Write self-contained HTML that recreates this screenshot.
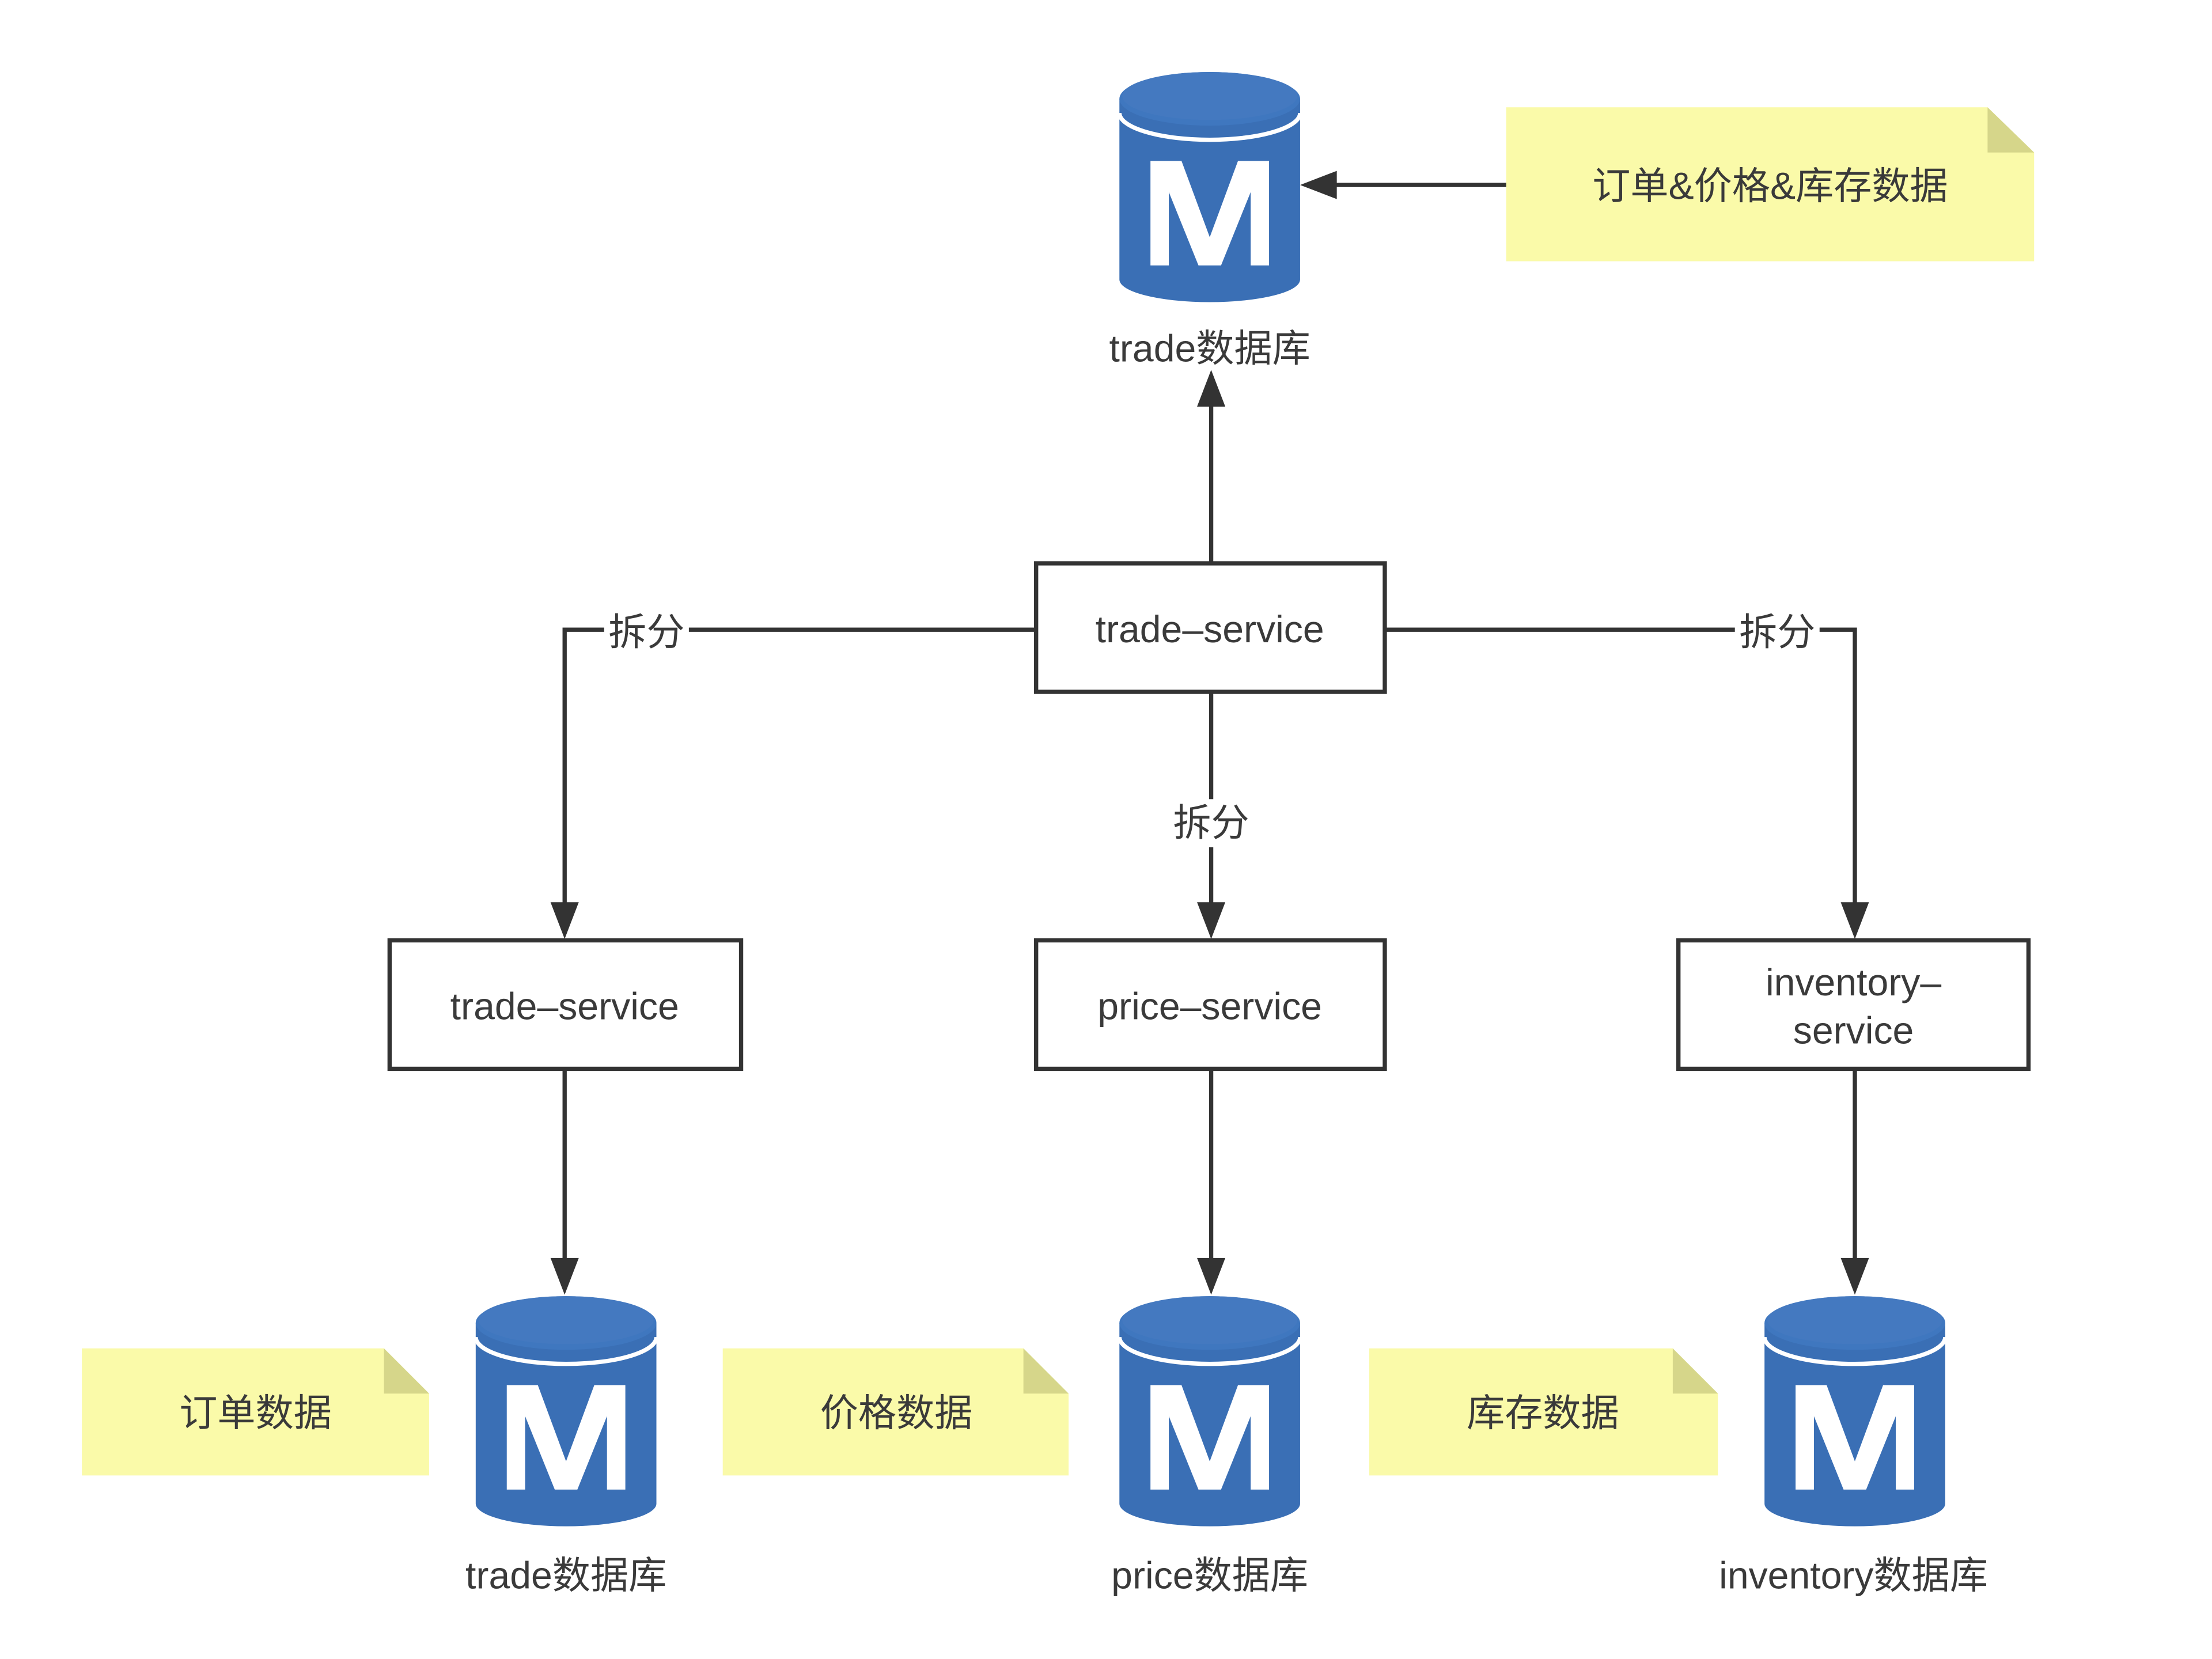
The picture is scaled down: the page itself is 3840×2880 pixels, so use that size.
<!DOCTYPE html>
<html><head><meta charset="utf-8"><style>
html,body{margin:0;padding:0;background:#fff;}
svg{display:block;}
text{font-family:"Liberation Sans","Noto Sans CJK SC",sans-serif;fill:#3a3a3a;}
</style></head><body>
<svg width="3840" height="2880" viewBox="0 0 1567 1175" preserveAspectRatio="none" xmlns="http://www.w3.org/2000/svg">
<defs>
<g id="db">
<path d="M0,20 L0,148 A64,16 0 0 0 128,148 L128,20 Z" fill="#3a6fb5"/>
<ellipse cx="64" cy="20" rx="64" ry="19" fill="#3f77bf"/>
<path d="M0,30 A64,19 0 0 0 128,30" fill="none" stroke="#fff" stroke-width="3"/>
<ellipse cx="64" cy="18" rx="62" ry="17" fill="#4479c0"/>
<path d="M22,138 L22,64 L44,64 L64,118 L84,64 L106,64 L106,138 L93,138 L93,86 L72,138 L56,138 L35,86 L35,138 Z" fill="#fff"/>
</g>
</defs>
<rect width="1567" height="1175" fill="#fff"/>

<use href="#db" x="793" y="50"/>
<use href="#db" x="337" y="917"/>
<use href="#db" x="793" y="917"/>
<use href="#db" x="1250" y="917"/>

<g font-size="27" text-anchor="middle">
<text x="857" y="256">trade数据库</text>
<text x="401" y="1125">trade数据库</text>
<text x="857" y="1125">price数据库</text>
<text x="1313" y="1125">inventory数据库</text>
</g>

<g fill="#fafaa9">
<polygon points="1067,76 1408,76 1441,108 1441,185 1067,185"/>
<polygon points="58,955 272,955 304,987 304,1045 58,1045"/>
<polygon points="512,955 725,955 757,987 757,1045 512,1045"/>
<polygon points="970,955 1185,955 1217,987 1217,1045 970,1045"/>
</g>
<g fill="#d6d68a">
<polygon points="1408,76 1441,108 1408,108"/>
<polygon points="272,955 304,987 272,987"/>
<polygon points="725,955 757,987 725,987"/>
<polygon points="1185,955 1217,987 1185,987"/>
</g>
<g font-size="27" text-anchor="middle">
<text x="1254" y="141">订单&amp;价格&amp;库存数据</text>
<text x="181" y="1010">订单数据</text>
<text x="635" y="1010">价格数据</text>
<text x="1093" y="1010">库存数据</text>
</g>

<g stroke="#333" stroke-width="3" fill="none">
<line x1="1067" y1="131" x2="940" y2="131"/>
<line x1="858" y1="398" x2="858" y2="280"/>
<polyline points="734,446 400,446 400,645"/>
<polyline points="981,446 1314,446 1314,645"/>
<line x1="858" y1="490" x2="858" y2="645"/>
<line x1="400" y1="757" x2="400" y2="897"/>
<line x1="858" y1="757" x2="858" y2="897"/>
<line x1="1314" y1="757" x2="1314" y2="897"/>
</g>
<g fill="#333">
<polygon points="921,131 947,121 947,141"/>
<polygon points="858,262 848,288 868,288"/>
<polygon points="400,665 390,639 410,639"/>
<polygon points="858,665 848,639 868,639"/>
<polygon points="1314,665 1304,639 1324,639"/>
<polygon points="400,917 390,891 410,891"/>
<polygon points="858,917 848,891 868,891"/>
<polygon points="1314,917 1304,891 1324,891"/>
</g>

<g fill="#fff">
<rect x="428" y="431" width="60" height="32"/>
<rect x="1229" y="431" width="60" height="32"/>
<rect x="828" y="566" width="60" height="34"/>
</g>
<g font-size="27" text-anchor="middle">
<text x="458" y="457">拆分</text>
<text x="1259" y="457">拆分</text>
<text x="858" y="592">拆分</text>
</g>

<g fill="#fff" stroke="#333" stroke-width="3">
<rect x="734" y="399" width="247" height="91"/>
<rect x="276" y="666" width="249" height="91"/>
<rect x="734" y="666" width="247" height="91"/>
<rect x="1189" y="666" width="248" height="91"/>
</g>
<g font-size="27" text-anchor="middle">
<text x="857" y="455">trade–service</text>
<text x="400" y="722">trade–service</text>
<text x="857" y="722">price–service</text>
<text x="1313" y="705">inventory–</text>
<text x="1313" y="739">service</text>
</g>
</svg>
</body></html>
